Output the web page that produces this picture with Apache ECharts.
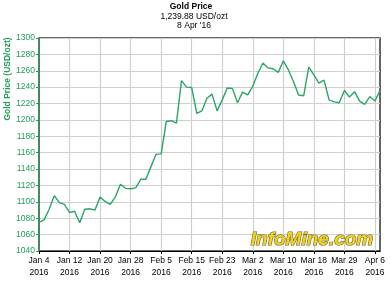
<!DOCTYPE html>
<html>
<head>
<meta charset="utf-8">
<script src="https://cdn.jsdelivr.net/npm/echarts@6/dist/echarts.min.js"></script>
<style>
html,body{margin:0;padding:0;background:#fff;}
#c{width:390px;height:282px;}
</style>
</head>
<body>
<div id="c"></div>
<script>
const dates = [
 "Jan 4","Jan 5","Jan 6","Jan 7","Jan 8","Jan 11","Jan 12","Jan 13","Jan 14","Jan 15",
 "Jan 18","Jan 19","Jan 20","Jan 21","Jan 22","Jan 25","Jan 26","Jan 27","Jan 28","Jan 29",
 "Feb 1","Feb 2","Feb 3","Feb 4","Feb 5","Feb 8","Feb 9","Feb 10","Feb 11","Feb 12",
 "Feb 15","Feb 16","Feb 17","Feb 18","Feb 19","Feb 22","Feb 23","Feb 24","Feb 25","Feb 26",
 "Feb 29","Mar 1","Mar 2","Mar 3","Mar 4","Mar 7","Mar 8","Mar 9","Mar 10","Mar 11",
 "Mar 14","Mar 15","Mar 16","Mar 17","Mar 18","Mar 21","Mar 22","Mar 23","Mar 24","Mar 28",
 "Mar 29","Mar 30","Mar 31","Apr 1","Apr 4","Apr 5","Apr 6","Apr 7"
];
const prices = [
 1075,1078,1091,1107.5,1099,1097,1087,1088.5,1074.5,1091,
 1091.5,1090,1106,1100.5,1097,1106,1121.5,1116.5,1116,1117,
 1127.5,1127.5,1143,1158,1158.5,1198,1199,1196,1248,1240,
 1239.5,1208,1211,1226.5,1231.5,1211,1224.5,1239,1238.5,1221,
 1234,1230.5,1241,1257,1269.5,1263.5,1262.5,1258,1272,1261,
 1247,1230.5,1229.5,1264.5,1255,1245,1248.5,1224.5,1222,1221,
 1236,1228,1234.5,1223,1219,1228.5,1223,1236
];
const yearLabel = "2016";
const titleText = "Gold Price";
const subLines = ["1,239.88 USD/ozt", "8 Apr '16"];
const yName = "Gold Price (USD/ozt)";
const watermark = "InfoMine.com";

const FF = 'Liberation Sans, Arial, sans-serif';
const green = '#1f9d55';
const chart = echarts.init(document.getElementById('c'), null, {renderer:'canvas'});
chart.setOption({
  animation:false,
  backgroundColor:'#fff',
  textStyle:{fontFamily:FF},
  grid:{left:39, right:10, top:38, bottom:31, show:true, borderColor:'#333', borderWidth:1.5},
  xAxis:{
    type:'category', data:dates, boundaryGap:false,
    axisLine:{lineStyle:{color:'#000', width:1}},
    axisTick:{interval:5, length:3, lineStyle:{color:'#000'}},
    axisLabel:{interval:5, color:'#000', fontSize:8.5, margin:4, lineHeight:11.5, fontFamily:FF,
      formatter:function(v){return v+'\n'+yearLabel;}},
    splitLine:{show:true, interval:5, lineStyle:{color:'#cfcfcf', width:1.2}}
  },
  yAxis:{
    type:'value', min:1040, max:1300, interval:20,
    axisLine:{show:true, lineStyle:{color:green, width:1}},
    axisTick:{show:true, length:3, lineStyle:{color:green}},
    axisLabel:{color:green, fontSize:8.5, margin:4, fontFamily:FF, formatter:function(v){return String(v);}},
    splitLine:{show:true, lineStyle:{color:'#cfcfcf', width:1.2}}
  },
  graphic:[
    {type:'text', x:191, y:7,
     style:{text:titleText, fill:'#000', font:'bold 8.5px '+FF, textAlign:'center', textVerticalAlign:'middle'}},
    {type:'text', x:194, y:16.5,
     style:{text:subLines[0], fill:'#000', font:'8.5px '+FF, textAlign:'center', textVerticalAlign:'middle'}},
    {type:'text', x:194, y:25.5,
     style:{text:subLines[1], fill:'#000', font:'8.5px '+FF, textAlign:'center', textVerticalAlign:'middle'}},
    {type:'text', x:8, y:79, rotation:Math.PI/2,
     style:{text:yName, fill:green, font:'bold 8.5px '+FF, textAlign:'center', textVerticalAlign:'middle'}},
    {type:'text', x:312, y:240, z:100,
     style:{text:watermark, fill:'#f3d21a', stroke:'#6b6440', lineWidth:1.2,
       font:'italic bold 19px '+FF, textAlign:'center', textVerticalAlign:'middle'}}
  ],
  series:[{
    type:'line', data:prices, symbol:'none',
    lineStyle:{color:'#2aa565', width:1.4}
  }]
});
</script>
</body>
</html>
